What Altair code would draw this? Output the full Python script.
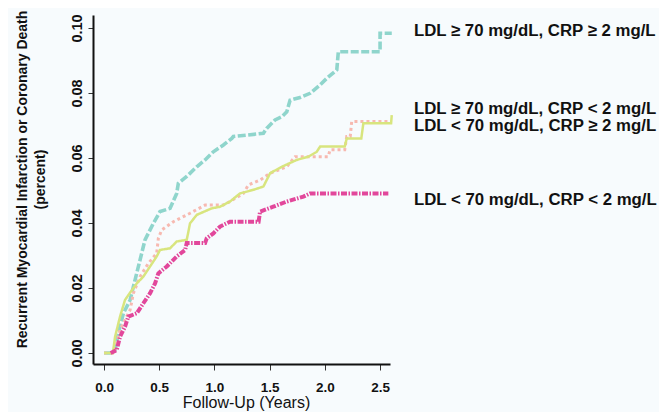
import altair as alt
import pandas as pd

# ---------------- data ----------------
series_names = [
    "LDL ≥ 70 mg/dL, CRP ≥ 2 mg/L",
    "LDL ≥ 70 mg/dL, CRP < 2 mg/L",
    "LDL < 70 mg/dL, CRP ≥ 2 mg/L",
    "LDL < 70 mg/dL, CRP < 2 mg/L",
]

teal_years = [0.00, 0.08, 0.10, 0.13, 0.175, 0.236, 0.281, 0.326, 0.371, 0.447, 0.507,
              0.598, 0.658, 0.673, 0.749, 0.840, 0.915, 0.990, 1.081, 1.157, 1.171,
              1.443, 1.473, 1.549, 1.61, 1.655, 1.685, 1.775, 1.866, 1.957, 2.017,
              2.108, 2.122, 2.50, 2.50, 2.606]
teal_risk = [0.0, 0.0, 0.0009, 0.0061, 0.0122, 0.0163, 0.0225, 0.0286, 0.0348, 0.0399, 0.0435,
             0.0445, 0.0491, 0.0522, 0.0543, 0.0573, 0.0594, 0.0619, 0.0640, 0.0660, 0.0666,
             0.0676, 0.0691, 0.0717, 0.0727, 0.0742, 0.0778, 0.0786, 0.0799, 0.0825, 0.0845,
             0.0871, 0.0927, 0.0927, 0.0984, 0.0984]

pink_years = [0.00, 0.08, 0.10, 0.145, 0.205, 0.236, 0.266, 0.326, 0.402, 0.477, 0.492,
              0.522, 0.628, 0.779, 0.915, 1.081, 1.141, 1.262, 1.307, 1.413, 1.504,
              1.655, 1.730, 2.03, 2.047, 2.18, 2.198, 2.23, 2.243, 2.606]
pink_risk = [0.0, 0.0, 0.0010, 0.0071, 0.0112, 0.0132, 0.0184, 0.0235, 0.0276, 0.0307, 0.0353,
             0.0378, 0.0404, 0.0430, 0.0455, 0.0455, 0.0466, 0.0491, 0.0517, 0.0532, 0.0553,
             0.0573, 0.0604, 0.0604, 0.0625, 0.0625, 0.0666, 0.0666, 0.0712, 0.0712]

yellow_years = [0.00, 0.08, 0.10, 0.145, 0.19, 0.22, 0.296, 0.356, 0.477, 0.507, 0.598,
                0.658, 0.749, 0.779, 0.840, 0.975, 1.051, 1.141, 1.232, 1.353, 1.443,
                1.504, 1.61, 1.745, 1.851, 1.926, 1.957, 2.18, 2.198, 2.33, 2.349, 2.60, 2.606]
yellow_risk = [0.0, 0.0, 0.0050, 0.0112, 0.0163, 0.0178, 0.0214, 0.0235, 0.0297, 0.0317, 0.0322,
               0.0343, 0.0348, 0.0399, 0.0425, 0.0445, 0.0450, 0.0466, 0.0491, 0.0502, 0.0512,
               0.0553, 0.0573, 0.0594, 0.0604, 0.0619, 0.0635, 0.0635, 0.0660, 0.0660, 0.0707,
               0.0707, 0.0732]

magenta_years = [0.06, 0.115, 0.145, 0.19, 0.22, 0.296, 0.356, 0.417, 0.462, 0.492, 0.568,
                 0.658, 0.734, 0.749, 0.915, 0.930, 0.990, 1.051, 1.141, 1.40, 1.413,
                 1.533, 1.655, 1.805, 1.866, 2.575]
magenta_risk = [0.0, 0.0009, 0.0050, 0.0081, 0.0112, 0.0122, 0.0153, 0.0184, 0.0214, 0.0245, 0.0266,
                0.0297, 0.0317, 0.0338, 0.0338, 0.0353, 0.0368, 0.0389, 0.0404, 0.0404, 0.0435,
                0.0450, 0.0466, 0.0481, 0.0491, 0.0491]

label_risk = [0.0991, 0.0751, 0.0698, 0.0471]

x_ticks = [0.0, 0.5, 1.0, 1.5, 2.0, 2.5]
y_ticks = [0.00, 0.02, 0.04, 0.06, 0.08, 0.10]

# ---------------- styling ----------------
colors = ["#8fd5cc", "#f7b9b0", "#d8e57e", "#e2479b"]
dashes = [[8, 2.5], [3, 3], [1, 0], [6, 1.5, 1.5, 1.5]]
widths = [3.6, 3, 2.5, 4]

series_data = [
    (teal_years, teal_risk),
    (pink_years, pink_risk),
    (yellow_years, yellow_risk),
    (magenta_years, magenta_risk),
]

x_scale = alt.Scale(domain=[-0.1, 2.59], nice=False, zero=False)
y_scale = alt.Scale(domain=[-0.0034, 0.104], nice=False, zero=False)

x_axis = alt.Axis(
    values=x_ticks, format=".1f", title="Follow-Up (Years)",
    labelFontSize=13.5, labelFontWeight="bold", labelColor="#111",
    labelPadding=10, tickSize=6, tickColor="#333",
    domainColor="#111", domainWidth=2, grid=False,
    titleFontSize=16, titleFontWeight="normal", titleColor="#111",
    titleX=153, titleY=38, titleBaseline="middle",
)
y_axis = alt.Axis(
    values=y_ticks, labelExpr="format(datum.value, '.2f')",
    title=["Recurrent Myocardial Infarction or Coronary Death", "(percent)"],
    labelFontSize=14.5, labelFontWeight="bold", labelColor="#111",
    labelAngle=270, labelAlign="center", labelBaseline="bottom", labelPadding=4,
    tickSize=5, tickColor="#333", domainColor="#111", domainWidth=2, grid=False,
    titleFontSize=14, titleFontWeight="bold", titleColor="#111",
    titleAngle=270, titleAlign="center", titleBaseline="middle",
    titleLineHeight=18, titleX=-71, titleY=164,
)

layers = []
for i, (name, (xs, ys)) in enumerate(zip(series_names, series_data)):
    df = pd.DataFrame({"years": xs, "risk": ys, "order": list(range(len(xs))), "group": name})
    layer = alt.Chart(df).mark_line(
        color=colors[i], strokeDash=dashes[i], strokeWidth=widths[i],
        strokeCap="butt", strokeJoin="miter",
    ).encode(
        x=alt.X("years:Q", scale=x_scale, axis=x_axis),
        y=alt.Y("risk:Q", scale=y_scale, axis=y_axis),
        order="order:Q",
    )
    layers.append(layer)

labels_df = pd.DataFrame({"label": series_names, "risk": label_risk})
labels = alt.Chart(labels_df).mark_text(
    align="left", baseline="middle", fontSize=16.8, fontWeight="bold",
    font="Liberation Sans", color="#111",
).encode(
    x=alt.value(321),
    y=alt.Y("risk:Q", scale=y_scale, axis=y_axis),
    text="label:N",
)

chart = alt.layer(*layers, labels).properties(
    width=297, height=349,
    autosize=alt.AutoSizeParams(type="none"),
    padding={"left": 85, "top": 7, "right": 269, "bottom": 48},
    background="#f7fbfd",
).configure(font="Liberation Sans").configure_view(stroke=None)

chart.save("out.html", embed_options={"renderer": "svg", "actions": False})
